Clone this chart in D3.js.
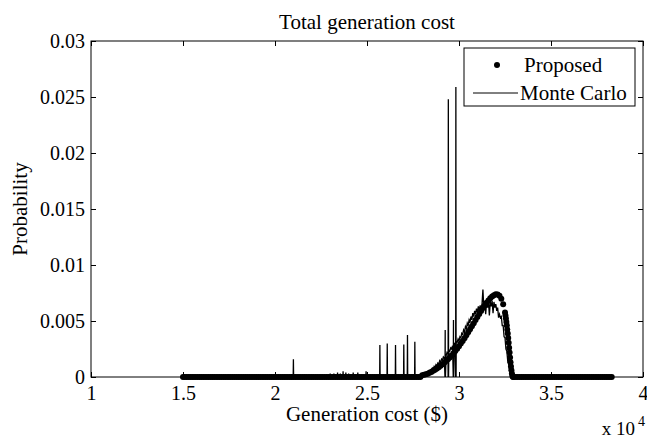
<!DOCTYPE html>
<html>
<head>
<meta charset="utf-8">
<script src="https://cdn.jsdelivr.net/npm/d3@7"></script>
<style>
	body { margin: 0; background: #fff; }
	svg text { font-family: "Liberation Serif", "Times New Roman", Times, "DejaVu Serif", serif !important; fill: #000; }
</style>
</head>
<body>
<svg id="chart" width="647" height="442" font-family="Liberation Serif, DejaVu Serif, serif"></svg>
<script>
"use strict";

// tick values / labels (x is in $, labels are in units of 10^4)
var xTicks = [10000, 15000, 20000, 25000, 30000, 35000, 40000];
var xTickLabels = ["1", "1.5", "2", "2.5", "3", "3.5", "4"];
var yTicks = [0, 0.005, 0.01, 0.015, 0.02, 0.025, 0.03];
var yTickLabels = ["0", "0.005", "0.01", "0.015", "0.02", "0.025", "0.03"];

// Proposed: zero outside these bounds, curve in between
var propStart = 15000, propEnd = 38300, propStep = 100;
var propCurveX = [28000, 28100, 28200, 28300, 28400, 28500, 28600, 28700, 28800, 28900,
	29000, 29100, 29200, 29300, 29400, 29500, 29600, 29700, 29800, 29900,
	30000, 30100, 30200, 30300, 30400, 30500, 30600, 30700, 30800, 30900,
	31000, 31100, 31200, 31300, 31400, 31500, 31600, 31700, 31800, 31900,
	32000, 32100, 32200, 32300, 32400, 32500, 32525, 32550, 32575, 32600,
	32625, 32650, 32675, 32700, 32725, 32750, 32775, 32800, 32825, 32850,
	32875, 32900, 32925, 32950];
// probability * 1e3
var propCurveY = [0.15, 0.19, 0.24, 0.30, 0.37, 0.45, 0.55, 0.65, 0.76, 0.88,
	1.00, 1.13, 1.27, 1.42, 1.58, 1.75, 1.93, 2.12, 2.32, 2.53,
	2.75, 2.98, 3.22, 3.47, 3.73, 4.00, 4.27, 4.54, 4.81, 5.08,
	5.35, 5.62, 5.89, 6.15, 6.40, 6.63, 6.84, 7.03, 7.19, 7.31,
	7.38, 7.37, 7.25, 6.98, 6.50, 5.75, 5.50, 5.22, 4.92, 4.60,
	4.25, 3.88, 3.48, 3.06, 2.62, 2.18, 1.74, 1.32, 0.94, 0.60,
	0.32, 0.12, 0.03, 0];

// Monte Carlo: isolated spikes, then the noisy main hump
var mcSpikeX = [21000, 22850, 23000, 23200, 23400, 23550, 23700, 23850, 24000, 24250, 24500, 24950,
	25700, 26100, 26550, 27000, 27200, 27600, 29250, 29420, 29700, 29830];
var mcSpikeY = [1.58, 0.2, 0.3, 0.3, 0.4, 0.3, 0.5, 0.4, 0.3, 0.4, 0.4, 0.5,
	2.86, 3.0, 2.86, 2.9, 3.75, 3.15, 4.2, 24.8, 5.1, 25.9];
var mcStart = 28000, mcStep = 50;
var mcCurveY = [0.15, 0.3, 0.2, 0.35, 0.3, 0.45, 0.35, 0.55, 0.45, 0.65,
	0.6, 0.8, 0.7, 0.95, 0.85, 1.1, 1.0, 1.25, 1.15, 1.45,
	1.3, 1.6, 1.5, 1.8, 1.7, 2.0, 1.9, 2.2, 2.1, 2.4,
	2.3, 2.6, 2.5, 2.8, 2.7, 3.0, 2.9, 3.2, 3.1, 3.4,
	3.2, 3.6, 3.5, 3.9, 3.8, 4.2, 4.0, 4.5, 4.3, 4.8,
	4.6, 5.1, 4.9, 5.4, 5.1, 5.7, 5.4, 5.9, 5.6, 6.1,
	5.8, 6.3, 5.9, 6.4, 6.0, 6.5, 7.8, 6.1, 6.6, 5.6,
	6.7, 6.2, 6.8, 5.5, 6.7, 6.3, 6.8, 5.7, 6.7, 6.2,
	6.5, 5.9, 6.2, 5.3, 5.6, 5.3, 5.4, 4.6, 4.6, 3.6,
	3.5, 2.5, 2.3, 1.4, 1.1, 0.5, 0.3, 0.1, 0];

var svg = d3.select("#chart");

var x = d3.scaleLinear().domain([10000, 40000]).range([91, 643]);
var y = d3.scaleLinear().domain([0, 0.03]).range([377, 41]);

// white axes background
svg.append("rect")
	.attr("x", 91).attr("y", 41)
	.attr("width", 552).attr("height", 336)
	.attr("fill", "#fff");

// == Monte Carlo line ==
var mcPts = [[propStart, 0]];
mcSpikeX.forEach(function (sx, i) {
	mcPts.push([sx - 12, 0], [sx, mcSpikeY[i] / 1000], [sx + 12, 0]);
});
mcCurveY.forEach(function (v, i) {
	mcPts.push([mcStart + i * mcStep, v / 1000]);
});
mcPts.push([propEnd, 0]);
mcPts.sort(function (a, b) { return a[0] - b[0]; });

// == Proposed dots ==
var propPts = [];
for (var px = propStart; px < propCurveX[0]; px += propStep) propPts.push([px, 0]);
propCurveX.forEach(function (cx, i) { propPts.push([cx, propCurveY[i] / 1000]); });
for (var qx = 33000; qx <= propEnd; qx += propStep) propPts.push([qx, 0]);

svg.append("g").selectAll("circle")
	.data(propPts)
	.enter().append("circle")
	.attr("cx", function (d) { return x(d[0]); })
	.attr("cy", function (d) { return y(d[1]); })
	.attr("r", 3)
	.attr("fill", "#000");

svg.append("path")
	.datum(mcPts)
	.attr("fill", "none")
	.attr("stroke", "#000")
	.attr("stroke-width", 1.3)
	.attr("d", d3.line().x(function (d) { return x(d[0]); }).y(function (d) { return y(d[1]); }));

// == axes (matlab style: ticks pointing in, on all four sides) ==
var gx = svg.append("g").attr("transform", "translate(0,377)")
	.call(d3.axisBottom(x).tickValues(xTicks).tickSizeInner(-5).tickSizeOuter(0).tickPadding(9)
		.tickFormat(function (d, i) { return xTickLabels[i]; }));
svg.append("g").attr("transform", "translate(0,41)")
	.call(d3.axisTop(x).tickValues(xTicks).tickSizeInner(-5).tickSizeOuter(0).tickFormat(""));
var gy = svg.append("g").attr("transform", "translate(91,0)")
	.call(d3.axisLeft(y).tickValues(yTicks).tickSizeInner(-5).tickSizeOuter(0).tickPadding(6)
		.tickFormat(function (d, i) { return yTickLabels[i]; }));
svg.append("g").attr("transform", "translate(643,0)")
	.call(d3.axisRight(y).tickValues(yTicks).tickSizeInner(-5).tickSizeOuter(0).tickFormat(""));

svg.selectAll(".domain").remove();
svg.selectAll("g").attr("font-family", null);
svg.selectAll(".tick line").attr("stroke", "#000");
svg.selectAll(".tick text")
	.style("font-size", "20px")
	.attr("fill", "#000");

svg.append("rect")
	.attr("x", 91).attr("y", 41)
	.attr("width", 552).attr("height", 336)
	.attr("fill", "none")
	.attr("stroke", "#000")
	.attr("stroke-width", 1);

// == labels ==
svg.append("text")
	.attr("x", 367).attr("y", 29)
	.attr("text-anchor", "middle")
	.style("font-size", "21px")
	.text("Total generation cost");

svg.append("text")
	.attr("x", 367).attr("y", 421)
	.attr("text-anchor", "middle")
	.style("font-size", "21px")
	.text("Generation cost ($)");

svg.append("text")
	.attr("transform", "translate(27,209) rotate(-90)")
	.attr("text-anchor", "middle")
	.style("font-size", "21px")
	.text("Probability");

svg.append("text")
	.attr("x", 635).attr("y", 435)
	.attr("text-anchor", "end")
	.style("font-size", "19px")
	.text("x 10");
svg.append("text")
	.attr("x", 638).attr("y", 426)
	.style("font-size", "14px")
	.text("4");

// == legend ==
var legend = svg.append("g");
legend.append("rect")
	.attr("x", 464).attr("y", 48)
	.attr("width", 171).attr("height", 58)
	.attr("fill", "#fff")
	.attr("stroke", "#000");
legend.append("circle")
	.attr("cx", 497).attr("cy", 65).attr("r", 3).attr("fill", "#000");
legend.append("line")
	.attr("x1", 473).attr("x2", 518).attr("y1", 93).attr("y2", 93)
	.attr("stroke", "#000").attr("stroke-width", 1);
legend.append("text")
	.attr("x", 524).attr("y", 72)
	.style("font-size", "21px")
	.text("Proposed");
legend.append("text")
	.attr("x", 520).attr("y", 100)
	.style("font-size", "21px")
	.text("Monte Carlo");
</script>
</body>
</html>
